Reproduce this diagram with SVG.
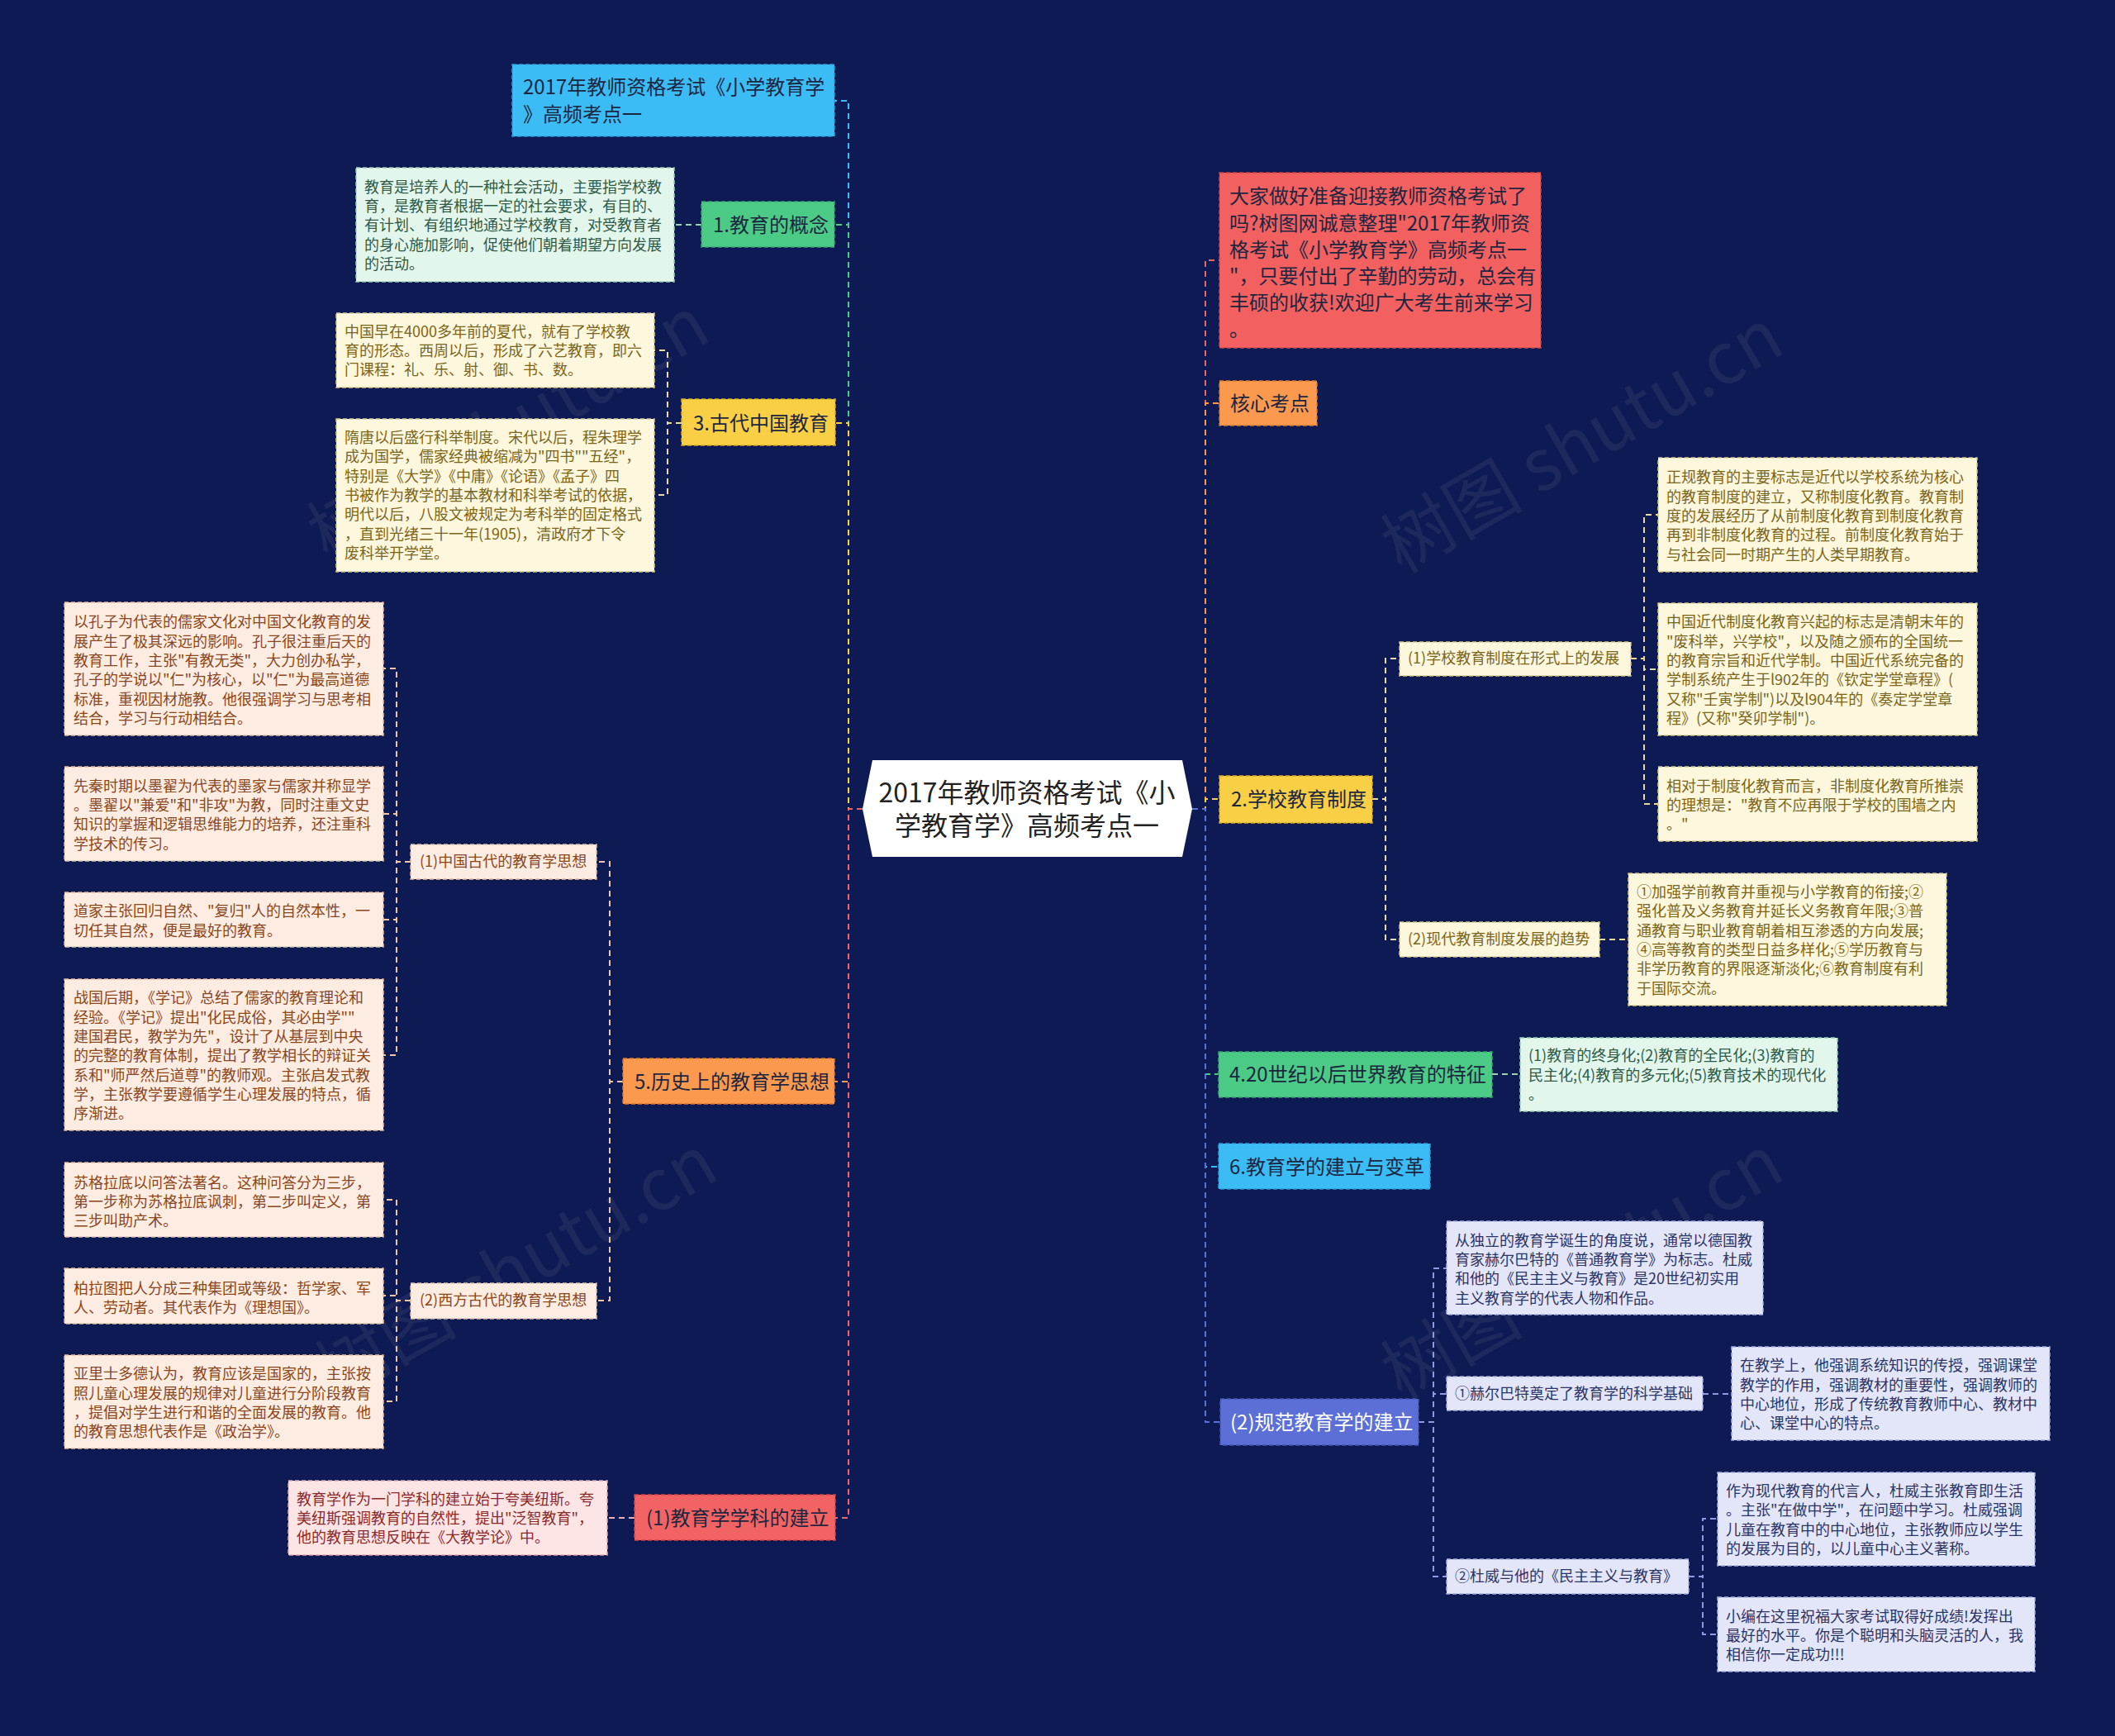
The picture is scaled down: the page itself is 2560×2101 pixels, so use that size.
<svg xmlns="http://www.w3.org/2000/svg" width="2560" height="2101" viewBox="0 0 2560 2101">
<style>
text{font-family:"Noto Sans CJK SC","Noto Sans",sans-serif;dominant-baseline:central}
text:not(.wm){transform:translate(0px,-2px)}
.n24{font-size:24px;fill:#1d2640}
.s18{font-size:18px}
.l18{font-size:18px}
rect{stroke-width:1.5;stroke-dasharray:5 3}
.c path{fill:none;stroke-width:2;stroke-dasharray:7 5}
.wm{font-size:86px;fill:#ffffff;opacity:0.06;dominant-baseline:auto}
.mint{fill:#e2f6ec;stroke:#9ccfb4}
.mintt{fill:#2e5a47}
.cream{fill:#fdf7dd;stroke:#d9c98a}
.creamt{fill:#7a6519}
.peach{fill:#fdece1;stroke:#e3bfa4}
.peacht{fill:#8a461c}
.pink{fill:#fde5e5;stroke:#e5a9a9}
.pinkt{fill:#8a2a2a}
.lav{fill:#e3e6f8;stroke:#a8b0e0}
.lavt{fill:#2c3466}
</style>
<rect x="0" y="0" width="2560" height="2101" fill="#0e1a53" stroke="none"/>

<g id="watermarks">
<text class="wm" x="630" y="545" transform="rotate(-30 630 545)" text-anchor="middle">树图 shutu.cn</text>
<text class="wm" x="1930" y="560" transform="rotate(-30 1930 560)" text-anchor="middle">树图 shutu.cn</text>
<text class="wm" x="640" y="1560" transform="rotate(-30 640 1560)" text-anchor="middle">树图 shutu.cn</text>
<text class="wm" x="1930" y="1560" transform="rotate(-30 1930 1560)" text-anchor="middle">树图 shutu.cn</text>
</g>

<g id="connectors" class="c">
<path d="M1044,979 H1027 V122 H1010" stroke="#3cbcf5"/>
<path d="M1044,979 H1027 V272 H1010" stroke="#4ccb86"/>
<path d="M1044,979 H1027 V512 H1011" stroke="#f8cf45"/>
<path d="M1044,979 H1027 V1309 H1010" stroke="#fb9a4f"/>
<path d="M1044,979 H1027 V1837 H1011" stroke="#f26363"/>
<path d="M1443,979 H1459 V315 H1476" stroke="#f26363"/>
<path d="M1443,979 H1459 V488 H1476" stroke="#fb9a4f"/>
<path d="M1443,979 H1459 V967 H1476" stroke="#f8cf45"/>
<path d="M1443,979 H1459 V1300 H1475" stroke="#4ccb86"/>
<path d="M1443,979 H1459 V1412 H1475" stroke="#3cbcf5"/>
<path d="M1443,979 H1459 V1721 H1477" stroke="#5b6fd6"/>
<path d="M849,272 H816" stroke="#9ccfb4"/>
<path d="M825,512 H808 V424 H792" stroke="#e9dba0"/>
<path d="M825,512 H808 V599 H792" stroke="#e9dba0"/>
<path d="M754,1309 H738 V1043 H722" stroke="#efc7a8"/>
<path d="M754,1309 H738 V1574 H722" stroke="#efc7a8"/>
<path d="M497,1043 H480 V809 H464" stroke="#efc7a8"/>
<path d="M497,1043 H480 V985 H464" stroke="#efc7a8"/>
<path d="M497,1043 H480 V1113 H464" stroke="#efc7a8"/>
<path d="M497,1043 H480 V1277 H464" stroke="#efc7a8"/>
<path d="M497,1574 H480 V1452 H464" stroke="#efc7a8"/>
<path d="M497,1574 H480 V1568 H464" stroke="#efc7a8"/>
<path d="M497,1574 H480 V1696 H464" stroke="#efc7a8"/>
<path d="M768,1837 H735" stroke="#eeb0b0"/>
<path d="M1661,967 H1677 V797 H1694" stroke="#e9dba0"/>
<path d="M1661,967 H1677 V1137 H1694" stroke="#e9dba0"/>
<path d="M1974,797 H1990 V623 H2007" stroke="#e9dba0"/>
<path d="M1974,797 H1990 V810 H2007" stroke="#e9dba0"/>
<path d="M1974,797 H1990 V973 H2007" stroke="#e9dba0"/>
<path d="M1936,1137 H1971" stroke="#e9dba0"/>
<path d="M1806,1300 H1840" stroke="#9ccfb4"/>
<path d="M1717,1721 H1735 V1535 H1751" stroke="#8f9ae0"/>
<path d="M1717,1721 H1735 V1687 H1751" stroke="#8f9ae0"/>
<path d="M1717,1721 H1735 V1908 H1751" stroke="#8f9ae0"/>
<path d="M2061,1687 H2096" stroke="#8f9ae0"/>
<path d="M2044,1908 H2061 V1838 H2079" stroke="#8f9ae0"/>
<path d="M2044,1908 H2061 V1978 H2079" stroke="#8f9ae0"/>
</g>

<g id="center">
<path d="M1056,920 H1431 L1443,979 L1431,1037 H1056 L1044,979 Z" fill="#ffffff" stroke="none"/>
<text x="1243" y="959" text-anchor="middle" style="font-size:32px;fill:#222">2017年教师资格考试《小</text>
<text x="1243" y="999" text-anchor="middle" style="font-size:32px;fill:#222">学教育学》高频考点一</text>
</g>

<g id="title-node">
<rect x="620" y="78" width="390" height="87" fill="#3cbcf5" stroke="#2a9fd6"/>
<text class="n24" x="633" y="105">2017年教师资格考试《小学教育学</text>
<text class="n24" x="633" y="138">》高频考点一</text>
</g>

<g id="node-1">
<rect x="849" y="244" width="161" height="55" fill="#4ccb86" stroke="#36a96c"/>
<text class="n24" x="863" y="272">1.教育的概念</text>
</g>
<g id="leaf-1">
<rect class="mint" x="431" y="203" width="385" height="138"/>
<text class="l18 mintt" x="441" y="227">教育是培养人的一种社会活动，主要指学校教</text>
<text class="l18 mintt" x="441" y="250">育，是教育者根据一定的社会要求，有目的、</text>
<text class="l18 mintt" x="441" y="273">有计划、有组织地通过学校教育，对受教育者</text>
<text class="l18 mintt" x="441" y="297">的身心施加影响，促使他们朝着期望方向发展</text>
<text class="l18 mintt" x="441" y="320">的活动。</text>
</g>

<g id="node-3">
<rect x="825" y="483" width="186" height="56" fill="#f8cf45" stroke="#d6ac24"/>
<text class="n24" x="839" y="512">3.古代中国教育</text>
</g>
<g id="leaf-3a">
<rect class="cream" x="407" y="379" width="385" height="90"/>
<text class="l18 creamt" x="417" y="402">中国早在4000多年前的夏代，就有了学校教</text>
<text class="l18 creamt" x="417" y="425">育的形态。西周以后，形成了六艺教育，即六</text>
<text class="l18 creamt" x="417" y="448">门课程：礼、乐、射、御、书、数。</text>
</g>
<g id="leaf-3b">
<rect class="cream" x="407" y="507" width="385" height="185"/>
<text class="l18 creamt" x="417" y="530">隋唐以后盛行科举制度。宋代以后，程朱理学</text>
<text class="l18 creamt" x="417" y="553">成为国学，儒家经典被缩减为"四书""五经"，</text>
<text class="l18 creamt" x="417" y="577">特别是《大学》《中庸》《论语》《孟子》四</text>
<text class="l18 creamt" x="417" y="600">书被作为教学的基本教材和科举考试的依据，</text>
<text class="l18 creamt" x="417" y="623">明代以后，八股文被规定为考科举的固定格式</text>
<text class="l18 creamt" x="417" y="647">，直到光绪三十一年(1905)，清政府才下令</text>
<text class="l18 creamt" x="417" y="670">废科举开学堂。</text>
</g>

<g id="node-5">
<rect x="754" y="1281" width="256" height="55" fill="#fb9a4f" stroke="#d97a30"/>
<text class="n24" x="768" y="1309">5.历史上的教育学思想</text>
</g>
<g id="sub-5-1">
<rect class="peach" x="497" y="1022" width="225" height="42"/>
<text class="s18 peacht" x="508" y="1043">(1)中国古代的教育学思想</text>
</g>
<g id="sub-5-2">
<rect class="peach" x="497" y="1553" width="225" height="43"/>
<text class="s18 peacht" x="508" y="1574">(2)西方古代的教育学思想</text>
</g>
<g id="leaf-5a">
<rect class="peach" x="78" y="729" width="386" height="161"/>
<text class="l18 peacht" x="89" y="753">以孔子为代表的儒家文化对中国文化教育的发</text>
<text class="l18 peacht" x="89" y="777">展产生了极其深远的影响。孔子很注重后天的</text>
<text class="l18 peacht" x="89" y="800">教育工作，主张"有教无类"，大力创办私学，</text>
<text class="l18 peacht" x="89" y="823">孔子的学说以"仁"为核心，以"仁"为最高道德</text>
<text class="l18 peacht" x="89" y="847">标准，重视因材施教。他很强调学习与思考相</text>
<text class="l18 peacht" x="89" y="870">结合，学习与行动相结合。</text>
</g>
<g id="leaf-5b">
<rect class="peach" x="78" y="928" width="386" height="114"/>
<text class="l18 peacht" x="89" y="952">先秦时期以墨翟为代表的墨家与儒家并称显学</text>
<text class="l18 peacht" x="89" y="975">。墨翟以"兼爱"和"非攻"为教，同时注重文史</text>
<text class="l18 peacht" x="89" y="998">知识的掌握和逻辑思维能力的培养，还注重科</text>
<text class="l18 peacht" x="89" y="1022">学技术的传习。</text>
</g>
<g id="leaf-5c">
<rect class="peach" x="78" y="1080" width="386" height="66"/>
<text class="l18 peacht" x="89" y="1103">道家主张回归自然、"复归"人的自然本性，一</text>
<text class="l18 peacht" x="89" y="1127">切任其自然，便是最好的教育。</text>
</g>
<g id="leaf-5d">
<rect class="peach" x="78" y="1185" width="386" height="183"/>
<text class="l18 peacht" x="89" y="1208">战国后期，《学记》总结了儒家的教育理论和</text>
<text class="l18 peacht" x="89" y="1232">经验。《学记》提出"化民成俗，其必由学""</text>
<text class="l18 peacht" x="89" y="1255">建国君民，教学为先"，设计了从基层到中央</text>
<text class="l18 peacht" x="89" y="1278">的完整的教育体制，提出了教学相长的辩证关</text>
<text class="l18 peacht" x="89" y="1302">系和"师严然后道尊"的教师观。主张启发式教</text>
<text class="l18 peacht" x="89" y="1325">学，主张教学要遵循学生心理发展的特点，循</text>
<text class="l18 peacht" x="89" y="1348">序渐进。</text>
</g>
<g id="leaf-5e">
<rect class="peach" x="78" y="1407" width="386" height="90"/>
<text class="l18 peacht" x="89" y="1432">苏格拉底以问答法著名。这种问答分为三步，</text>
<text class="l18 peacht" x="89" y="1455">第一步称为苏格拉底讽刺，第二步叫定义，第</text>
<text class="l18 peacht" x="89" y="1478">三步叫助产术。</text>
</g>
<g id="leaf-5f">
<rect class="peach" x="78" y="1535" width="386" height="67"/>
<text class="l18 peacht" x="89" y="1560">柏拉图把人分成三种集团或等级：哲学家、军</text>
<text class="l18 peacht" x="89" y="1583">人、劳动者。其代表作为《理想国》。</text>
</g>
<g id="leaf-5g">
<rect class="peach" x="78" y="1640" width="386" height="113"/>
<text class="l18 peacht" x="89" y="1663">亚里士多德认为，教育应该是国家的，主张按</text>
<text class="l18 peacht" x="89" y="1687">照儿童心理发展的规律对儿童进行分阶段教育</text>
<text class="l18 peacht" x="89" y="1710">，提倡对学生进行和谐的全面发展的教育。他</text>
<text class="l18 peacht" x="89" y="1733">的教育思想代表作是《政治学》。</text>
</g>

<g id="node-7">
<rect x="768" y="1809" width="243" height="55" fill="#f26363" stroke="#d04646"/>
<text class="n24" x="782" y="1837">(1)教育学学科的建立</text>
</g>
<g id="leaf-7">
<rect class="pink" x="349" y="1792" width="386" height="90"/>
<text class="l18 pinkt" x="359" y="1815">教育学作为一门学科的建立始于夸美纽斯。夸</text>
<text class="l18 pinkt" x="359" y="1838">美纽斯强调教育的自然性，提出"泛智教育"，</text>
<text class="l18 pinkt" x="359" y="1861">他的教育思想反映在《大教学论》中。</text>
</g>

<g id="intro-node">
<rect x="1476" y="209" width="389" height="212" fill="#f26060" stroke="#d04646"/>
<text class="n24" x="1488" y="237">大家做好准备迎接教师资格考试了</text>
<text class="n24" x="1488" y="270">吗?树图网诚意整理"2017年教师资</text>
<text class="n24" x="1488" y="302">格考试《小学教育学》高频考点一</text>
<text class="n24" x="1488" y="334">"，只要付出了辛勤的劳动，总会有</text>
<text class="n24" x="1488" y="366">丰硕的收获!欢迎广大考生前来学习</text>
<text class="n24" x="1488" y="398">。</text>
</g>

<g id="core-node">
<rect x="1476" y="461" width="118" height="54" fill="#fb9a4f" stroke="#d97a30"/>
<text class="n24" x="1489" y="488">核心考点</text>
</g>

<g id="node-2">
<rect x="1476" y="939" width="185" height="57" fill="#f8cf45" stroke="#d6ac24"/>
<text class="n24" x="1490" y="967">2.学校教育制度</text>
</g>
<g id="sub-2-1">
<rect class="cream" x="1694" y="777" width="280" height="41"/>
<text class="s18 creamt" x="1704" y="797">(1)学校教育制度在形式上的发展</text>
</g>
<g id="leaf-2a">
<rect class="cream" x="2007" y="554" width="386" height="138"/>
<text class="l18 creamt" x="2017" y="578">正规教育的主要标志是近代以学校系统为核心</text>
<text class="l18 creamt" x="2017" y="602">的教育制度的建立，又称制度化教育。教育制</text>
<text class="l18 creamt" x="2017" y="625">度的发展经历了从前制度化教育到制度化教育</text>
<text class="l18 creamt" x="2017" y="648">再到非制度化教育的过程。前制度化教育始于</text>
<text class="l18 creamt" x="2017" y="672">与社会同一时期产生的人类早期教育。</text>
</g>
<g id="leaf-2b">
<rect class="cream" x="2007" y="730" width="386" height="160"/>
<text class="l18 creamt" x="2017" y="753">中国近代制度化教育兴起的标志是清朝末年的</text>
<text class="l18 creamt" x="2017" y="777">"废科举，兴学校"，以及随之颁布的全国统一</text>
<text class="l18 creamt" x="2017" y="800">的教育宗旨和近代学制。中国近代系统完备的</text>
<text class="l18 creamt" x="2017" y="823">学制系统产生于l902年的《钦定学堂章程》(</text>
<text class="l18 creamt" x="2017" y="847">又称"壬寅学制")以及l904年的《奏定学堂章</text>
<text class="l18 creamt" x="2017" y="870">程》(又称"癸卯学制")。</text>
</g>
<g id="leaf-2c">
<rect class="cream" x="2007" y="928" width="386" height="90"/>
<text class="l18 creamt" x="2017" y="952">相对于制度化教育而言，非制度化教育所推崇</text>
<text class="l18 creamt" x="2017" y="975">的理想是："教育不应再限于学校的围墙之内</text>
<text class="l18 creamt" x="2017" y="998">。"</text>
</g>
<g id="sub-2-2">
<rect class="cream" x="1694" y="1116" width="242" height="42"/>
<text class="s18 creamt" x="1704" y="1137">(2)现代教育制度发展的趋势</text>
</g>
<g id="leaf-2d">
<rect class="cream" x="1971" y="1057" width="385" height="160"/>
<text class="l18 creamt" x="1981" y="1080">①加强学前教育并重视与小学教育的衔接;②</text>
<text class="l18 creamt" x="1981" y="1103">强化普及义务教育并延长义务教育年限;③普</text>
<text class="l18 creamt" x="1981" y="1127">通教育与职业教育朝着相互渗透的方向发展;</text>
<text class="l18 creamt" x="1981" y="1150">④高等教育的类型日益多样化;⑤学历教育与</text>
<text class="l18 creamt" x="1981" y="1173">非学历教育的界限逐渐淡化;⑥教育制度有利</text>
<text class="l18 creamt" x="1981" y="1197">于国际交流。</text>
</g>

<g id="node-4">
<rect x="1475" y="1273" width="331" height="55" fill="#4ccb86" stroke="#36a96c"/>
<text class="n24" x="1488" y="1300">4.20世纪以后世界教育的特征</text>
</g>
<g id="leaf-4">
<rect class="mint" x="1840" y="1256" width="384" height="89"/>
<text class="l18 mintt" x="1850" y="1278">(1)教育的终身化;(2)教育的全民化;(3)教育的</text>
<text class="l18 mintt" x="1850" y="1302">民主化;(4)教育的多元化;(5)教育技术的现代化</text>
<text class="l18 mintt" x="1850" y="1325">。</text>
</g>

<g id="node-6">
<rect x="1475" y="1384" width="256" height="55" fill="#3cbcf5" stroke="#2a9fd6"/>
<text class="n24" x="1488" y="1412">6.教育学的建立与变革</text>
</g>

<g id="node-8">
<rect x="1477" y="1693" width="240" height="56" fill="#5b6fd6" stroke="#4556b8"/>
<text class="n24" x="1489" y="1721" style="fill:#ffffff">(2)规范教育学的建立</text>
</g>
<g id="leaf-8a">
<rect class="lav" x="1751" y="1478" width="383" height="113"/>
<text class="l18 lavt" x="1761" y="1502">从独立的教育学诞生的角度说，通常以德国教</text>
<text class="l18 lavt" x="1761" y="1525">育家赫尔巴特的《普通教育学》为标志。杜威</text>
<text class="l18 lavt" x="1761" y="1548">和他的《民主主义与教育》是20世纪初实用</text>
<text class="l18 lavt" x="1761" y="1572">主义教育学的代表人物和作品。</text>
</g>
<g id="sub-8-1">
<rect class="lav" x="1751" y="1666" width="310" height="41"/>
<text class="s18 lavt" x="1761" y="1687">①赫尔巴特奠定了教育学的科学基础</text>
</g>
<g id="leaf-8b">
<rect class="lav" x="2096" y="1630" width="385" height="113"/>
<text class="l18 lavt" x="2106" y="1653">在教学上，他强调系统知识的传授，强调课堂</text>
<text class="l18 lavt" x="2106" y="1677">教学的作用，强调教材的重要性，强调教师的</text>
<text class="l18 lavt" x="2106" y="1700">中心地位，形成了传统教育教师中心、教材中</text>
<text class="l18 lavt" x="2106" y="1723">心、课堂中心的特点。</text>
</g>
<g id="sub-8-2">
<rect class="lav" x="1751" y="1887" width="293" height="42"/>
<text class="s18 lavt" x="1761" y="1908">②杜威与他的《民主主义与教育》</text>
</g>
<g id="leaf-8c">
<rect class="lav" x="2079" y="1782" width="384" height="113"/>
<text class="l18 lavt" x="2089" y="1805">作为现代教育的代言人，杜威主张教育即生活</text>
<text class="l18 lavt" x="2089" y="1828">。主张"在做中学"，在问题中学习。杜威强调</text>
<text class="l18 lavt" x="2089" y="1852">儿童在教育中的中心地位，主张教师应以学生</text>
<text class="l18 lavt" x="2089" y="1875">的发展为目的，以儿童中心主义著称。</text>
</g>
<g id="leaf-8d">
<rect class="lav" x="2079" y="1933" width="384" height="90"/>
<text class="l18 lavt" x="2089" y="1957">小编在这里祝福大家考试取得好成绩!发挥出</text>
<text class="l18 lavt" x="2089" y="1980">最好的水平。你是个聪明和头脑灵活的人，我</text>
<text class="l18 lavt" x="2089" y="2003">相信你一定成功!!!</text>
</g>
</svg>
